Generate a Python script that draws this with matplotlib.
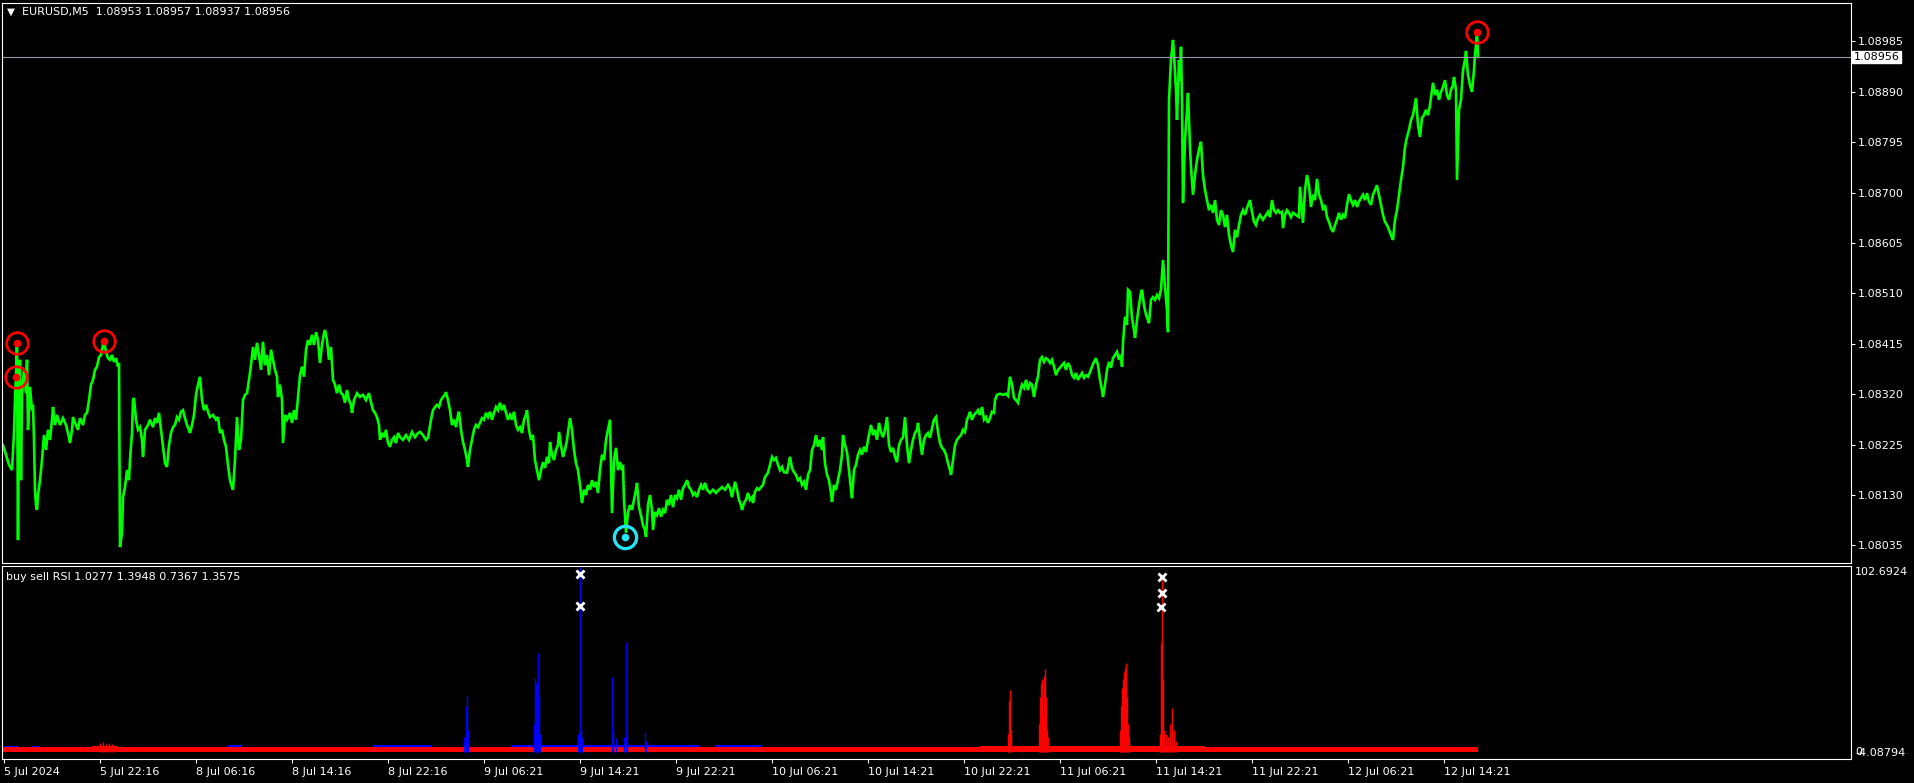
import matplotlib
matplotlib.use("Agg")
import matplotlib.pyplot as plt

plt.rcParams['font.family'] = ['DejaVu Sans']

# ---- price line: bar position / close ----
bars = [
    3, 6, 9, 12, 14, 15, 16, 17, 18, 19,
    20, 21, 22, 24, 26, 27, 28, 30, 32, 33,
    34, 35, 36, 37, 38, 40, 42, 44, 46, 48,
    50, 52, 53, 55, 57, 60, 63, 66, 68, 70,
    72, 73, 76, 78, 80, 83, 85, 87, 89, 91,
    93, 95, 97, 99, 101, 103, 104, 106, 108, 110,
    112, 114, 116, 118, 119, 120, 122, 123, 125, 127,
    129, 130, 132, 133, 134, 136, 138, 140, 142, 143,
    145, 148, 150, 153, 155, 157, 159, 161, 163, 165,
    167, 169, 171, 173, 175, 177, 179, 181, 183, 185,
    187, 189, 190, 192, 194, 196, 198, 200, 202, 204,
    206, 208, 210, 213, 216, 218, 220, 222, 224, 226,
    228, 230, 232, 233, 235, 237, 239, 241, 243, 245,
    247, 249, 251, 253, 255, 257, 259, 261, 263, 265,
    267, 269, 271, 273, 275, 277, 278, 280, 282, 283,
    285, 287, 290, 292, 294, 296, 298, 300, 302, 304,
    306, 308, 310, 312, 314, 316, 318, 320, 322, 324,
    325, 327, 329, 331, 333, 335, 337, 339, 341, 343,
    345, 347, 349, 351, 352, 354, 357, 360, 363, 366,
    369, 371, 373, 375, 377, 379, 380, 382, 384, 386,
    388, 390, 392, 394, 396, 398, 400, 403, 406, 409,
    412, 415, 418, 420, 423, 426, 428, 431, 433, 435,
    437, 439, 441, 443, 445, 446, 448, 450, 452, 454,
    456, 458, 459, 461, 463, 465, 467, 468, 470, 472,
    474, 476, 478, 480, 482, 484, 486, 488, 490, 492,
    494, 496, 498, 500, 502, 504, 506, 508, 510, 512,
    514, 516, 518, 520, 522, 524, 526, 527, 529, 531,
    533, 535, 537, 539, 541, 543, 545, 547, 549, 550,
    552, 554, 556, 558, 559, 561, 563, 565, 567, 569,
    570, 572, 574, 576, 578, 580, 582, 584, 586, 588,
    590, 592, 594, 596, 598, 600, 602, 604, 606, 608,
    610, 612, 614, 616, 618, 620, 622, 623, 624, 625,
    626, 628, 630, 632, 634, 636, 637, 639, 641, 643,
    645, 646, 648, 650, 652, 653, 655, 657, 659, 661,
    663, 665, 667, 669, 671, 673, 675, 677, 679, 681,
    683, 685, 687, 689, 691, 693, 695, 697, 699, 701,
    703, 705, 707, 710, 713, 716, 719, 722, 725, 728,
    730, 732, 735, 737, 739, 741, 742, 744, 746, 748,
    750, 752, 753, 755, 757, 759, 761, 763, 765, 768,
    770, 772, 774, 776, 778, 780, 782, 784, 787, 790,
    792, 794, 796, 798, 800, 802, 804, 806, 808, 810,
    812, 814, 816, 818, 820, 822, 823, 825, 827, 829,
    831, 832, 834, 836, 838, 840, 842, 843, 845, 847,
    849, 851, 852, 854, 856, 858, 860, 862, 864, 866,
    868, 870, 871, 873, 875, 877, 879, 881, 883, 885,
    887, 889, 891, 893, 895, 897, 899, 901, 903, 905,
    907, 909, 911, 913, 915, 917, 918, 920, 922, 924,
    926, 928, 930, 932, 934, 936, 938, 940, 942, 944,
    946, 948, 950, 951, 953, 955, 957, 959, 961, 963,
    965, 967, 969, 970, 972, 974, 976, 978, 980, 982,
    984, 986, 988, 990, 992, 994, 995, 997, 1000, 1003,
    1006, 1008, 1010, 1012, 1014, 1016, 1018, 1020, 1022, 1024,
    1026, 1028, 1030, 1032, 1034, 1036, 1038, 1040, 1042, 1044,
    1046, 1048, 1050, 1052, 1054, 1056, 1058, 1060, 1062, 1064,
    1066, 1068, 1070, 1072, 1074, 1076, 1078, 1080, 1082, 1084,
    1086, 1088, 1090, 1092, 1094, 1096, 1098, 1100, 1102, 1103,
    1105, 1107, 1109, 1111, 1113, 1115, 1117, 1119, 1121, 1122,
    1123, 1125, 1127, 1128, 1130, 1132, 1134, 1135, 1137, 1139,
    1141, 1142, 1144, 1146, 1148, 1149, 1151, 1153, 1155, 1157,
    1159, 1161, 1163, 1165, 1167, 1168, 1169, 1171, 1173, 1174,
    1176, 1177, 1179, 1180, 1181, 1182, 1183, 1185, 1187, 1188,
    1190, 1191, 1193, 1195, 1197, 1199, 1201, 1203, 1205, 1207,
    1209, 1211, 1213, 1215, 1217, 1219, 1221, 1223, 1225, 1227,
    1229, 1231, 1233, 1235, 1237, 1239, 1241, 1243, 1245, 1247,
    1250, 1252, 1254, 1256, 1258, 1260, 1263, 1266, 1268, 1270,
    1272, 1274, 1276, 1278, 1280, 1282, 1283, 1285, 1287, 1289,
    1291, 1293, 1296, 1299, 1300, 1302, 1303, 1305, 1307, 1309,
    1311, 1313, 1315, 1317, 1319, 1321, 1323, 1325, 1327, 1329,
    1331, 1333, 1335, 1337, 1339, 1341, 1343, 1345, 1347, 1349,
    1351, 1353, 1355, 1357, 1359, 1361, 1363, 1365, 1367, 1369,
    1371, 1373, 1375, 1377, 1379, 1381, 1383, 1385, 1387, 1389,
    1391, 1393, 1395, 1397, 1399, 1401, 1403, 1405, 1407, 1409,
    1411, 1413, 1416, 1418, 1420, 1422, 1424, 1426, 1428, 1430,
    1433, 1435, 1437, 1439, 1441, 1443, 1445, 1447, 1449, 1451,
    1453, 1454, 1456, 1457, 1459, 1461, 1463, 1465, 1466, 1468,
    1470, 1472, 1474, 1475, 1476, 1477, 1478,
]
closes = [
    1.08224, 1.08206, 1.08187, 1.08177, 1.08247, 1.08309, 1.08353, 1.08417, 1.08045, 1.08328,
    1.08385, 1.08158, 1.08319, 1.08366, 1.08322, 1.08385, 1.08253, 1.08334, 1.08290, 1.08300,
    1.08234, 1.08140, 1.08111, 1.08102, 1.08130, 1.08158, 1.08196, 1.08243, 1.08215, 1.08253,
    1.08234, 1.08272, 1.08296, 1.08262, 1.08281, 1.08262, 1.08275, 1.08262, 1.08247, 1.08228,
    1.08253, 1.08277, 1.08262, 1.08253, 1.08275, 1.08262, 1.08281, 1.08285, 1.08309, 1.08338,
    1.08347, 1.08366, 1.08372, 1.08390, 1.08394, 1.08413, 1.08420, 1.08400, 1.08388, 1.08385,
    1.08394, 1.08381, 1.08388, 1.08372, 1.08379, 1.08032, 1.08059, 1.08126, 1.08145, 1.08177,
    1.08158, 1.08196, 1.08247, 1.08309, 1.08313, 1.08272, 1.08253, 1.08258, 1.08234, 1.08202,
    1.08253, 1.08262, 1.08272, 1.08258, 1.08275, 1.08266, 1.08285, 1.08253, 1.08221, 1.08190,
    1.08183, 1.08224, 1.08247, 1.08258, 1.08262, 1.08277, 1.08272, 1.08287, 1.08290, 1.08275,
    1.08262, 1.08253, 1.08247, 1.08262, 1.08281, 1.08319, 1.08338, 1.08353, 1.08309, 1.08290,
    1.08300, 1.08287, 1.08277, 1.08281, 1.08272, 1.08277, 1.08247, 1.08253, 1.08234, 1.08221,
    1.08187, 1.08158, 1.08145, 1.08140, 1.08196, 1.08277, 1.08215, 1.08234, 1.08309, 1.08319,
    1.08322, 1.08347, 1.08375, 1.08409, 1.08385, 1.08417, 1.08394, 1.08366, 1.08419, 1.08375,
    1.08394, 1.08356, 1.08404, 1.08385, 1.08366, 1.08353, 1.08315, 1.08338, 1.08309, 1.08228,
    1.08281, 1.08272, 1.08285, 1.08266, 1.08290, 1.08272, 1.08315, 1.08356, 1.08372, 1.08353,
    1.08404, 1.08422, 1.08413, 1.08432, 1.08413, 1.08437, 1.08422, 1.08379, 1.08413, 1.08435,
    1.08441, 1.08422, 1.08385, 1.08409, 1.08347, 1.08338, 1.08322, 1.08338, 1.08322, 1.08319,
    1.08304, 1.08328, 1.08309, 1.08300, 1.08285, 1.08309, 1.08322, 1.08315, 1.08319, 1.08309,
    1.08322, 1.08305, 1.08290, 1.08285, 1.08277, 1.08262, 1.08234, 1.08247, 1.08239, 1.08253,
    1.08228, 1.08221, 1.08234, 1.08239, 1.08228, 1.08247, 1.08239, 1.08234, 1.08243, 1.08234,
    1.08249, 1.08239, 1.08247, 1.08249, 1.08243, 1.08234, 1.08238, 1.08272, 1.08290, 1.08296,
    1.08300, 1.08296, 1.08309, 1.08315, 1.08319, 1.08324, 1.08309, 1.08290, 1.08262, 1.08272,
    1.08258, 1.08281, 1.08287, 1.08253, 1.08230, 1.08215, 1.08196, 1.08183, 1.08215, 1.08234,
    1.08253, 1.08262, 1.08258, 1.08266, 1.08275, 1.08272, 1.08285, 1.08277, 1.08287, 1.08272,
    1.08285, 1.08296, 1.08290, 1.08304, 1.08290, 1.08300, 1.08285, 1.08272, 1.08281, 1.08272,
    1.08287, 1.08262, 1.08253, 1.08258, 1.08247, 1.08272, 1.08281, 1.08290, 1.08253, 1.08234,
    1.08243, 1.08196, 1.08177, 1.08158, 1.08177, 1.08192, 1.08181, 1.08202, 1.08190, 1.08230,
    1.08206, 1.08196, 1.08215, 1.08224, 1.08249, 1.08224, 1.08202, 1.08215, 1.08234, 1.08262,
    1.08275, 1.08253, 1.08215, 1.08190, 1.08177, 1.08149, 1.08115, 1.08140, 1.08130, 1.08149,
    1.08140, 1.08158, 1.08145, 1.08155, 1.08134, 1.08177, 1.08206, 1.08196, 1.08234, 1.08253,
    1.08272, 1.08096, 1.08196, 1.08219, 1.08177, 1.08192, 1.08177, 1.08187, 1.08121, 1.08089,
    1.08059, 1.08098, 1.08111, 1.08102, 1.08121, 1.08140, 1.08153, 1.08107, 1.08092, 1.08073,
    1.08064, 1.08051, 1.08111, 1.08130, 1.08102, 1.08064, 1.08098, 1.08092, 1.08105, 1.08089,
    1.08102, 1.08096, 1.08121, 1.08111, 1.08130, 1.08107, 1.08130, 1.08124, 1.08140, 1.08121,
    1.08143, 1.08149, 1.08158, 1.08145, 1.08140, 1.08130, 1.08134, 1.08126, 1.08140, 1.08149,
    1.08140, 1.08153, 1.08140, 1.08134, 1.08140, 1.08134, 1.08140, 1.08145, 1.08140, 1.08149,
    1.08143, 1.08126, 1.08155, 1.08140, 1.08121, 1.08111, 1.08102, 1.08115, 1.08121, 1.08134,
    1.08121, 1.08126, 1.08115, 1.08136, 1.08143, 1.08140, 1.08145, 1.08149, 1.08164, 1.08172,
    1.08187, 1.08202, 1.08196, 1.08200, 1.08187, 1.08177, 1.08183, 1.08173, 1.08172, 1.08202,
    1.08181, 1.08173, 1.08168, 1.08158, 1.08162, 1.08149, 1.08155, 1.08140, 1.08168, 1.08177,
    1.08215, 1.08224, 1.08243, 1.08221, 1.08234, 1.08215, 1.08239, 1.08190, 1.08168, 1.08158,
    1.08134, 1.08117, 1.08149, 1.08140, 1.08158, 1.08177, 1.08206, 1.08243, 1.08224, 1.08211,
    1.08177, 1.08140, 1.08124, 1.08177, 1.08187, 1.08206, 1.08215, 1.08206, 1.08221, 1.08211,
    1.08234, 1.08253, 1.08262, 1.08243, 1.08253, 1.08234, 1.08266, 1.08249, 1.08239, 1.08253,
    1.08277, 1.08224, 1.08211, 1.08219, 1.08202, 1.08192, 1.08224, 1.08234, 1.08239, 1.08277,
    1.08224, 1.08190, 1.08215, 1.08234, 1.08247, 1.08253, 1.08266, 1.08234, 1.08206, 1.08234,
    1.08243, 1.08247, 1.08238, 1.08256, 1.08272, 1.08277, 1.08249, 1.08228, 1.08219, 1.08215,
    1.08206, 1.08190, 1.08177, 1.08168, 1.08196, 1.08224, 1.08234, 1.08239, 1.08243, 1.08253,
    1.08249, 1.08272, 1.08281, 1.08287, 1.08272, 1.08281, 1.08285, 1.08290, 1.08281, 1.08296,
    1.08272, 1.08277, 1.08266, 1.08275, 1.08287, 1.08285, 1.08309, 1.08319, 1.08321, 1.08319,
    1.08321, 1.08317, 1.08353, 1.08338, 1.08313, 1.08309, 1.08304, 1.08324, 1.08338, 1.08332,
    1.08347, 1.08328, 1.08341, 1.08338, 1.08315, 1.08338, 1.08353, 1.08385, 1.08390, 1.08381,
    1.08388, 1.08385, 1.08379, 1.08385, 1.08372, 1.08356, 1.08366, 1.08370, 1.08375, 1.08379,
    1.08366, 1.08379, 1.08372, 1.08356, 1.08351, 1.08360, 1.08347, 1.08354, 1.08360, 1.08351,
    1.08356, 1.08353, 1.08362, 1.08372, 1.08381, 1.08388, 1.08375, 1.08347, 1.08328, 1.08315,
    1.08338, 1.08366, 1.08381, 1.08370, 1.08388, 1.08394, 1.08400, 1.08385, 1.08394, 1.08372,
    1.08417, 1.08466, 1.08451, 1.08517, 1.08513, 1.08464, 1.08441, 1.08426, 1.08460, 1.08488,
    1.08511, 1.08517, 1.08488, 1.08470, 1.08460, 1.08454, 1.08498, 1.08503, 1.08498, 1.08507,
    1.08501, 1.08517, 1.08573, 1.08522, 1.08479, 1.08437, 1.08875, 1.08950, 1.08988, 1.08960,
    1.08894, 1.08837, 1.08950, 1.08912, 1.08975, 1.08875, 1.08681, 1.08799, 1.08856, 1.08888,
    1.08786, 1.08748, 1.08696, 1.08733, 1.08762, 1.08781, 1.08796, 1.08733, 1.08705, 1.08686,
    1.08667, 1.08677, 1.08662, 1.08686, 1.08649, 1.08639, 1.08667, 1.08658, 1.08635, 1.08658,
    1.08620, 1.08601, 1.08588, 1.08630, 1.08616, 1.08639, 1.08658, 1.08667, 1.08658, 1.08671,
    1.08686, 1.08664, 1.08645, 1.08639, 1.08652, 1.08658, 1.08649, 1.08658, 1.08664, 1.08654,
    1.08686, 1.08667, 1.08662, 1.08667, 1.08662, 1.08664, 1.08633, 1.08658, 1.08667, 1.08662,
    1.08654, 1.08662, 1.08658, 1.08654, 1.08711, 1.08667, 1.08643, 1.08705, 1.08733, 1.08714,
    1.08673, 1.08696, 1.08686, 1.08726, 1.08696, 1.08686, 1.08667, 1.08677, 1.08654, 1.08645,
    1.08633, 1.08626, 1.08639, 1.08649, 1.08662, 1.08649, 1.08658, 1.08652, 1.08677, 1.08697,
    1.08686, 1.08677, 1.08686, 1.08673, 1.08683, 1.08690, 1.08696, 1.08686, 1.08699, 1.08683,
    1.08677, 1.08696, 1.08705, 1.08714, 1.08696, 1.08677, 1.08658, 1.08645, 1.08639, 1.08630,
    1.08620, 1.08611, 1.08649, 1.08667, 1.08696, 1.08724, 1.08748, 1.08786, 1.08805, 1.08818,
    1.08837, 1.08846, 1.08878, 1.08828, 1.08805, 1.08841, 1.08846, 1.08856, 1.08846, 1.08865,
    1.08907, 1.08884, 1.08894, 1.08875, 1.08890, 1.08899, 1.08912, 1.08884, 1.08875, 1.08894,
    1.08903, 1.08918, 1.08894, 1.08724, 1.08856, 1.08875, 1.08931, 1.08950, 1.08967, 1.08922,
    1.08903, 1.08890, 1.08931, 1.08960, 1.08978, 1.09003, 1.08956,
]

# signal circles on the price window
sell_sig_bars = [16, 17, 104, 1477]
sell_sig_prices = [1.08353, 1.08417, 1.08420, 1.09003]
buy_sig_bars = [625]
buy_sig_prices = [1.08051]

# header / axis texts
symbol = "EURUSD,M5"
ohlc = ["1.08953", "1.08957", "1.08937", "1.08956"]
last_close = 1.08956
price_ticks = [1.08985, 1.08890, 1.08795, 1.08700, 1.08605, 1.08510,
               1.08415, 1.08320, 1.08225, 1.08130, 1.08035]
time_tick_bars = [4, 100, 196, 292, 388, 484, 580, 676, 772, 868,
                  964, 1060, 1156, 1252, 1348, 1444]
time_labels = ["5 Jul 2024", "5 Jul 22:16", "8 Jul 06:16", "8 Jul 14:16",
               "8 Jul 22:16", "9 Jul 06:21", "9 Jul 14:21", "9 Jul 22:21",
               "10 Jul 06:21", "10 Jul 14:21", "10 Jul 22:21", "11 Jul 06:21",
               "11 Jul 14:21", "11 Jul 22:21", "12 Jul 06:21", "12 Jul 14:21"]

# ---- buy sell RSI sub window ----
ind_name = "buy sell RSI"
ind_values = ["1.0277", "1.3948", "0.7367", "1.3575"]
ind_max = 102.6924
ind_min = -4.08794
buy_bars = [464, 466, 467, 468, 534, 535, 536, 537, 538, 539, 540,
            578, 579, 580, 581, 582, 612, 613, 616, 624, 626, 627, 645, 646]
buy_vals = [8, 25, 31.3, 12, 15, 41, 38, 20, 54.6, 30, 10,
            10, 9, 102.69, 12, 8, 41.3, 12, 7.5, 8, 60.6, 10, 10.8, 6]
sell_bars = [100, 103, 106, 109, 112,
             1008, 1009, 1010, 1011, 1039, 1040, 1041, 1042, 1043, 1044, 1045,
             1046, 1047, 1048, 1120, 1121, 1122, 1123, 1124, 1125, 1126, 1127,
             1128, 1129, 1160, 1161, 1162, 1163, 1164, 1166, 1168, 1170, 1172,
             1174, 1176]
sell_vals = [4.5, 5.5, 4.0, 5.0, 4.2,
             10, 28, 34, 12, 15, 30, 38, 40, 20, 42, 45.7,
             30, 12, 8, 12, 25, 35, 40, 44, 46, 49, 30,
             15, 8, 10, 60, 95, 40, 12, 10, 8, 15, 24,
             12, 6]
# low-level stretches: (first bar, last bar, level)
buy_band_start = [4, 31, 228, 373, 511, 600, 715]
buy_band_end = [18, 40, 241, 431, 600, 700, 761]
buy_band_level = [3.0, 3.0, 3.5, 3.5, 3.5, 3.5, 3.5]
sell_band_start = [2, 92, 980, 1407]
sell_band_end = [1478, 118, 1205, 1470]
sell_band_level = [2.3, 3.2, 2.9, 2.8]
buy_mark_bars = [580, 580]
buy_mark_vals = [98.3, 80.7]
sell_mark_bars = [1162, 1162, 1161]
sell_mark_vals = [96.6, 87.8, 80.0]

W, H = 1914, 783
fig = plt.figure(figsize=(W / 100, H / 100), dpi=100, facecolor='black')


def px_rect(x0, y0, x1, y1):
    return [x0 / W, 1 - y1 / H, (x1 - x0) / W, (y1 - y0) / H]


ax = fig.add_axes(px_rect(2, 3, 1851, 563))
ax2 = fig.add_axes(px_rect(2, 566, 1851, 759))
for a in (ax, ax2):
    a.set_facecolor('black')
    for s in a.spines.values():
        s.set_color('white')
        s.set_linewidth(0.8)
    a.set_xlim(2, 1851)

# main window
ax.set_ylim(1.080019, 1.090575)
ax.plot(bars, closes, color='#00ff00', lw=1.9, solid_joinstyle='miter')
ax.axhline(last_close, color='#8f9aa6', lw=0.8)
ax.plot(sell_sig_bars, sell_sig_prices, 'o', ms=15.5, mfc='none', mec='#ff0000', mew=2.0)
ax.plot(sell_sig_bars, sell_sig_prices, 'o', ms=5.5, mfc='#ff0000', mec='none')
ax.plot(buy_sig_bars, buy_sig_prices, 'o', ms=16, mfc='none', mec='#22e4f5', mew=2.4)
ax.plot(buy_sig_bars, buy_sig_prices, 'o', ms=5.5, mfc='#22e4f5', mec='none')
ax.set_xticks([])
ax.yaxis.tick_right()
ax.set_yticks(price_ticks)
ax.set_yticklabels([f"{p:.5f}" for p in price_ticks])
ax.tick_params(axis='y', colors='white', length=3, width=0.8, pad=2, labelsize=8)
ax.annotate(f"{last_close:.5f}", xy=(1, last_close), xycoords=('axes fraction', 'data'),
            xytext=(2, 0), textcoords='offset points', ha='left', va='center',
            color='black', size=8, annotation_clip=False,
            bbox=dict(boxstyle='square,pad=0.12', fc='white', ec='white'))

# sub window
ax2.set_ylim(ind_min, ind_max)
for s0, s1, lv in zip(buy_band_start, buy_band_end, buy_band_level):
    ax2.broken_barh([(s0, s1 - s0)], (0, lv), facecolors='#0000ff')
ax2.vlines(buy_bars, 0, buy_vals, color='#0000ff', lw=1.0)
for s0, s1, lv in zip(sell_band_start, sell_band_end, sell_band_level):
    ax2.broken_barh([(s0, s1 - s0)], (-0.4, lv + 0.4), facecolors='#ff0000')
ax2.vlines(sell_bars, 0, sell_vals, color='#ff0000', lw=1.0)
ax2.plot(buy_mark_bars, buy_mark_vals, 'x', color='white', ms=5.5, mew=2, clip_on=False)
ax2.plot(sell_mark_bars, sell_mark_vals, 'x', color='white', ms=5.5, mew=2, clip_on=False)
ax2.set_yticks([])
ax2.set_xticks(time_tick_bars)
ax2.set_xticklabels(time_labels, ha='left')
ax2.tick_params(axis='x', colors='white', length=3, width=0.8, pad=2.5, labelsize=8)
ax2.annotate(f"{ind_max:.4f}", xy=(1, 1), xycoords='axes fraction', xytext=(3, -1),
             textcoords='offset points', ha='left', va='top', color='white', size=8,
             annotation_clip=False)
# MT4 prints the zero level and the window minimum on top of each other here
ax2.annotate("0", xy=(1, 0), xycoords=('axes fraction', 'data'), xytext=(3, 0),
             textcoords='offset points', ha='left', va='center', color='white', size=8,
             annotation_clip=False)
ax2.annotate(f"{ind_min:.5f}", xy=(1, 0), xycoords='axes fraction', xytext=(3, 1),
             textcoords='offset points', ha='left', va='bottom', color='white', size=8,
             annotation_clip=False)

# window headers
fig.text(6.5 / W, 1 - 12 / H, "\u25bc", color='white', size=7.5, va='center', ha='left')
fig.text(21.5 / W, 1 - 12.5 / H, f"{symbol}  " + " ".join(ohlc), color='white',
         size=8, va='center', ha='left')
fig.text(6 / W, 1 - 577 / H, f"{ind_name} " + " ".join(ind_values), color='white',
         size=8, va='center', ha='left')

fig.savefig("out.png", dpi=100, facecolor='black')
